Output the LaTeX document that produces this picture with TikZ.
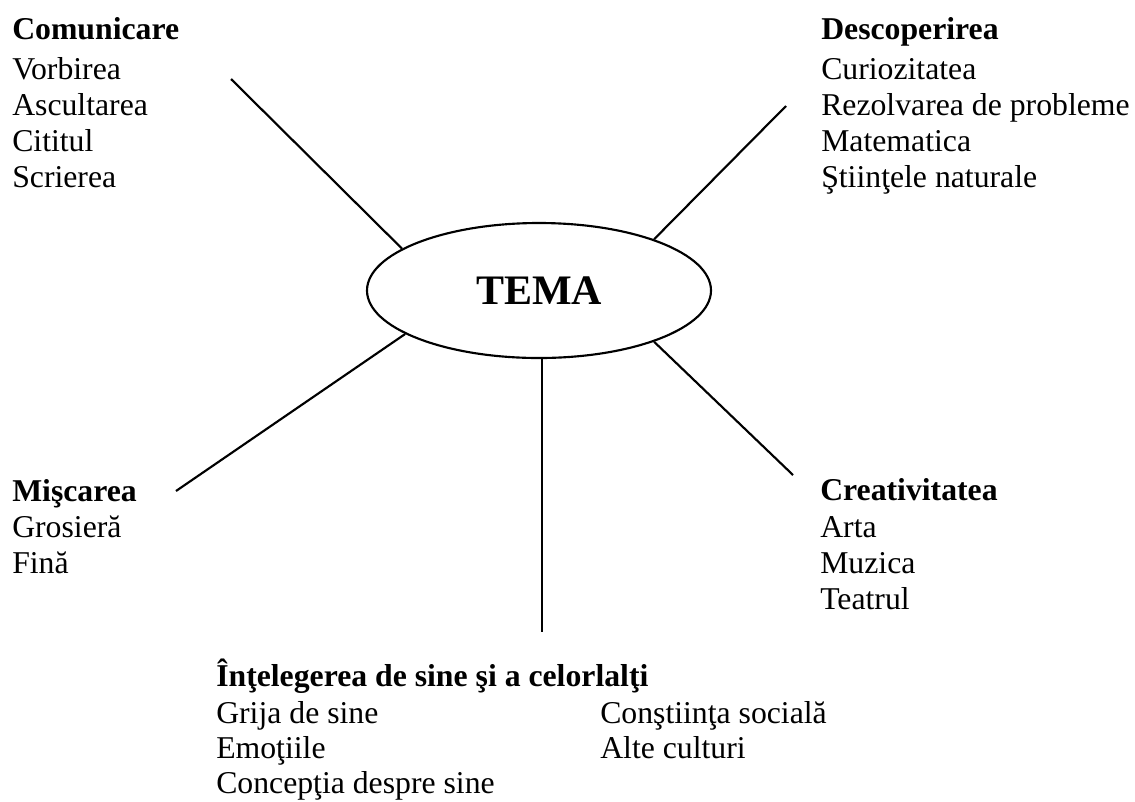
\documentclass[tikz,border=0pt]{standalone}
\usepackage{fontspec}
\setmainfont{Liberation Serif}
\usetikzlibrary{shapes.geometric}
\begin{document}
\begin{tikzpicture}[x=0.75pt,y=-0.75pt,
  txt/.style={anchor=base west, inner sep=0pt, font=\fontsize{23.8}{27}\selectfont},
  hdr/.style={anchor=base west, inner sep=0pt, font=\fontsize{23.8}{27}\selectfont\bfseries},
  spoke/.style={line width=1.6pt},
  temabox/.style={ellipse, draw, line width=1.6pt, minimum width=258pt, minimum height=101.25pt, inner sep=0pt, font=\fontsize{31.5}{36}\selectfont\bfseries}]
\useasboundingbox (0,0) rectangle (1135,801);

\node[temabox] (tema) at (539,290.5) {TEMA};

\coordinate (c1) at (231,79);
\coordinate (c2) at (786,106);
\coordinate (c3) at (176,491);
\coordinate (c4) at (793,475);
\coordinate (c5) at (542,632);

\draw[spoke] (tema.163) -- (c1);
\draw[spoke] (tema.24.5) -- (c2);
\draw[spoke] (tema.198) -- (c3);
\draw[spoke] (tema.336.4) -- (c4);
\draw[spoke] (c5 |- tema.south) -- (c5);

% Comunicare
\node[hdr] (com) at (12,39) {Comunicare};
\node[txt] (com1) at (12,79) {Vorbirea};
\node[txt] (com2) at (12,115) {Ascultarea};
\node[txt] (com3) at (12,151) {Cititul};
\node[txt] (com4) at (12,187) {Scrierea};

% Descoperirea
\node[hdr] (des) at (821,39) {Descoperirea};
\node[txt] (des1) at (821,79) {Curiozitatea};
\node[txt] (des2) at (821,115) {Rezolvarea de probleme};
\node[txt] (des3) at (821,151) {Matematica};
\node[txt] (des4) at (821,187) {Ştiinţele naturale};

% Miscarea
\node[hdr] (mis) at (12,501) {Mişcarea};
\node[txt] (mis1) at (12,537) {Grosieră};
\node[txt] (mis2) at (12,573) {Fină};

% Creativitatea
\node[hdr] (cre) at (820,500) {Creativitatea};
\node[txt] (cre1) at (820,537) {Arta};
\node[txt] (cre2) at (820,573) {Muzica};
\node[txt] (cre3) at (820,609) {Teatrul};

% Intelegerea
\node[hdr] (int) at (216,686) {Înţelegerea de sine şi a celorlalţi};
\node[txt] (int1) at (216,723) {Grija de sine};
\node[txt] (int2) at (216,758) {Emoţiile};
\node[txt] (int3) at (216,793) {Concepţia despre sine};
\node[txt] (int4) at (600,723) {Conştiinţa socială};
\node[txt] (int5) at (600,758) {Alte culturi};
\end{tikzpicture}
\end{document}
